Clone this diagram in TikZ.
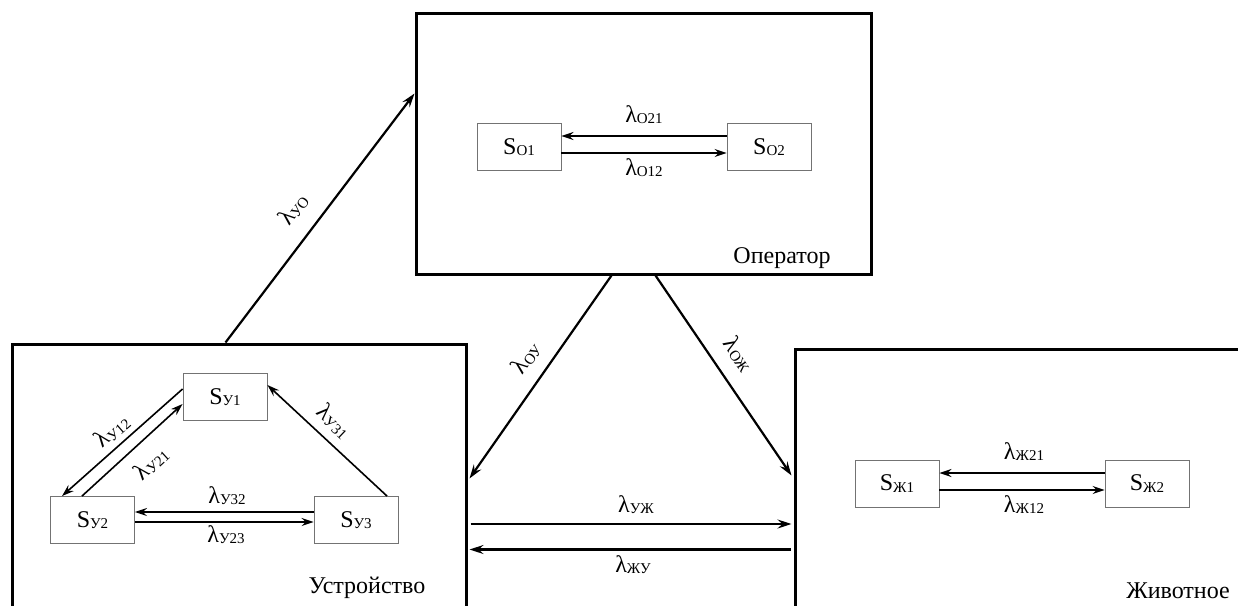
\documentclass[tikz,border=0pt]{standalone}
\usepackage{fontspec}
\setmainfont{Liberation Serif}
\usetikzlibrary{arrows.meta}
% rate label and state label with lowered small subscript
\newcommand\lmb[1]{λ\raisebox{-1.5pt}{\fontsize{15}{15}\selectfont #1}}
\newcommand\sst[1]{S\raisebox{-1.5pt}{\fontsize{15}{15}\selectfont #1}}

\begin{document}
\begin{tikzpicture}[x=1pt,y=-1pt,
  frame/.style={draw, line width=3pt, inner sep=0pt},
  state/.style={draw=black!55, line width=0.9pt, minimum width=84pt, minimum height=47pt,
                inner sep=0pt, font=\fontsize{24}{24}\selectfont},
  lbl/.style={font=\fontsize{24}{24}\selectfont, inner sep=0pt},
  title/.style={font=\fontsize{24}{24}\selectfont, inner sep=0pt, anchor=base},
  arr/.style={line width=1.6pt, -{Stealth[length=12pt,width=8pt,inset=4pt]}},
  link/.style={line width=2.2pt, -{Stealth[length=14pt,width=9pt,inset=5pt]}}]
\useasboundingbox (0,0) rectangle (1238,605);
\clip (0,0) rectangle (1238,605);

% subsystem frames
\node[frame, minimum width=455pt, minimum height=261pt] (op)  at (643.5,143.5) {};
\node[frame, minimum width=454pt, minimum height=276pt] (dev) at (239,482) {};
\node[frame, minimum width=455pt, minimum height=271pt] (ani) at (1022.5,484.5) {};

\node[title] (opT)  at (782,263) {Оператор};
\node[title] (devT) at (367,593) {Устройство};
\node[title] (aniT) at (1178,598) {Животное};

% operator states
\node[state] (so1) at (519,147) {\sst{О1}};
\node[state] (so2) at (769,147) {\sst{О2}};
\draw[arr] ([yshift=11pt]so2.west) -- ([yshift=11pt]so1.east);
\draw[arr] ([yshift=-6pt]so1.east) -- ([yshift=-6pt]so2.west);
\node[lbl, anchor=base] (lo21) at (644,122) {\lmb{О21}};
\node[lbl, anchor=base] (lo12) at (644,175) {\lmb{О12}};

% device states
\node[state] (sy1) at (225,397) {\sst{У1}};
\node[state] (sy2) at (92.5,520) {\sst{У2}};
\node[state] (sy3) at (356,520) {\sst{У3}};
\draw[arr] ([yshift=8pt]sy1.west) -- ([xshift=-30.5pt]sy2.north);
\draw[arr] ([xshift=-10.5pt]sy2.north) -- ([yshift=-7pt]sy1.west);
\draw[arr] ([xshift=31pt]sy3.north) -- ([yshift=12pt]sy1.east);
\draw[arr] ([yshift=8pt]sy3.west) -- ([yshift=8pt]sy2.east);
\draw[arr] ([yshift=-2pt]sy2.east) -- ([yshift=-2pt]sy3.west);
\node[lbl, rotate=41] (ly12) at (112,431) {\lmb{У12}};
\node[lbl, rotate=42.6] (ly21) at (151,463) {\lmb{У21}};
\node[lbl, rotate=-43.3] (ly31) at (334,421) {\lmb{У31}};
\node[lbl, anchor=base] (ly32) at (227,503) {\lmb{У32}};
\node[lbl, anchor=base] (ly23) at (226,542) {\lmb{У23}};

% animal states
\node[state] (sz1) at (897,483.5) {\sst{Ж1}};
\node[state] (sz2) at (1147,483.5) {\sst{Ж2}};
\draw[arr] ([yshift=10.5pt]sz2.west) -- ([yshift=10.5pt]sz1.east);
\draw[arr] ([yshift=-6.5pt]sz1.east) -- ([yshift=-6.5pt]sz2.west);
\node[lbl, anchor=base] (lz21) at (1024,459) {\lmb{Ж21}};
\node[lbl, anchor=base] (lz12) at (1024,512) {\lmb{Ж12}};

% links between subsystems
\draw[link] ([xshift=215pt]dev.north west) -- ([yshift=-82pt]op.north west);
\draw[link] ([xshift=197pt]op.south west) -- ([xshift=2pt,yshift=-136pt]dev.north east);
\draw[link] ([xshift=241pt]op.south west) -- ([xshift=-2pt,yshift=-128pt]ani.north west);
\draw[link] ([xshift=3pt,yshift=-181.5pt]dev.north east) -- ([xshift=-2pt,yshift=-176.5pt]ani.north west);
\draw[link] ([xshift=-3pt,yshift=-202pt]ani.north west) -- ([xshift=2pt,yshift=-207pt]dev.north east);
\node[lbl, rotate=52.8] (lyo) at (293,209) {\lmb{УО}};
\node[lbl, rotate=54.5] (loy) at (526,358) {\lmb{ОУ}};
\node[lbl, rotate=-55.8] (loz) at (739,354) {\lmb{ОЖ}};
\node[lbl, anchor=base] (lyz) at (636,512) {\lmb{УЖ}};
\node[lbl, anchor=base] (lzy) at (633,572) {\lmb{ЖУ}};
\end{tikzpicture}
\end{document}
